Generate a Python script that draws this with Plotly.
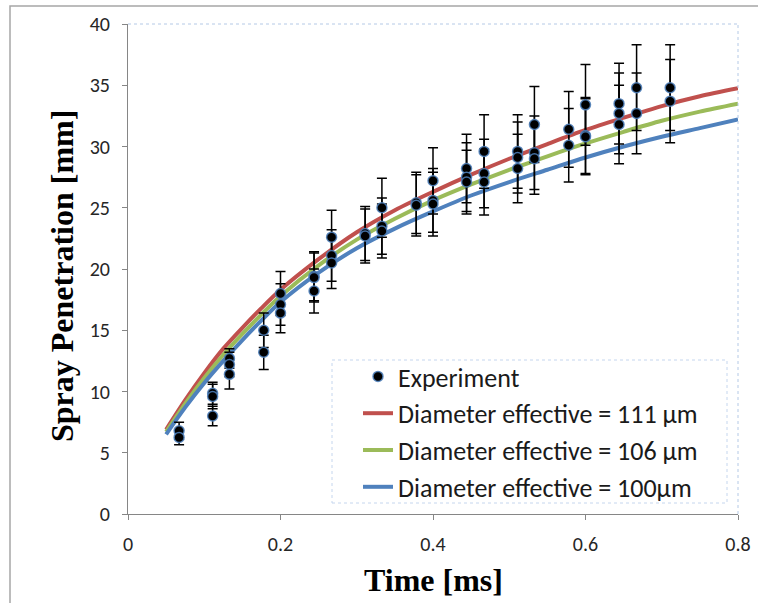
import plotly.graph_objects as go

# ---------------- data ----------------
exp_time = [0.067, 0.067,
            0.111, 0.111, 0.111,
            0.133, 0.133, 0.133,
            0.178, 0.178,
            0.2, 0.2, 0.2,
            0.244, 0.244, 0.244,
            0.267, 0.267, 0.267,
            0.311, 0.311,
            0.333, 0.333, 0.333,
            0.378, 0.378,
            0.4, 0.4, 0.4,
            0.444, 0.444, 0.444,
            0.467, 0.467, 0.467,
            0.511, 0.511, 0.511,
            0.533, 0.533, 0.533,
            0.578, 0.578,
            0.6, 0.6, 0.6,
            0.644, 0.644, 0.644,
            0.667, 0.667,
            0.711, 0.711]
exp_pen = [6.8, 6.25,
           9.85, 9.6, 8.0,
           12.7, 12.2, 11.4,
           15.0, 13.2,
           18.0, 17.1, 16.4,
           19.4, 19.3, 18.2,
           22.6, 21.1, 20.5,
           22.9, 22.7,
           25.0, 23.5, 23.1,
           25.4, 25.2,
           27.2, 25.6, 25.3,
           28.2, 27.5, 27.1,
           29.6, 27.8, 27.1,
           29.6, 29.1, 28.2,
           31.8, 29.5, 29.0,
           31.4, 30.1,
           33.4, 30.9, 30.8,
           33.5, 32.7, 31.8,
           34.8, 32.7,
           34.8, 33.7]
exp_err = [0.7, 0.6,
           0.9, 1.0, 0.8,
           0.8, 1.0, 1.2,
           1.4, 1.4,
           1.8, 1.7, 1.6,
           2.0, 2.0, 1.8,
           2.2, 2.1, 2.1,
           2.2, 2.2,
           2.4, 2.3, 2.2,
           2.5, 2.5,
           2.7, 2.6, 2.6,
           2.8, 2.8, 2.6,
           3.0, 2.8, 2.7,
           3.0, 2.9, 2.8,
           3.1, 3.0, 2.9,
           3.1, 3.0,
           3.3, 3.1, 3.1,
           3.3, 3.3, 3.2,
           3.5, 3.3,
           3.5, 3.4]

model_time = [0.05, 0.075, 0.1, 0.125, 0.15, 0.175, 0.2, 0.25, 0.3, 0.35,
              0.4, 0.45, 0.5, 0.55, 0.6, 0.65, 0.7, 0.75, 0.8]
pen_111 = [6.9, 9.3, 11.5, 13.5, 15.2, 16.8, 18.3, 20.8, 23.0, 24.8,
           26.3, 27.7, 29.0, 30.2, 31.35, 32.35, 33.3, 34.1, 34.75]
pen_106 = [6.7, 9.0, 11.1, 13.0, 14.7, 16.3, 17.8, 20.3, 22.4, 24.1,
           25.6, 26.9, 28.1, 29.2, 30.25, 31.2, 32.1, 32.85, 33.5]
pen_100 = [6.5, 8.7, 10.7, 12.5, 14.2, 15.8, 17.3, 19.7, 21.7, 23.3,
           24.7, 26.0, 27.1, 28.1, 29.1, 30.0, 30.8, 31.5, 32.2]

x_ticks = [0, 0.2, 0.4, 0.6, 0.8]
x_ticktext = ["0", "0.2", "0.4", "0.6", "0.8"]
y_ticks = [0, 5, 10, 15, 20, 25, 30, 35, 40]

names = ["Experiment",
         "Diameter effective = 111 µm",
         "Diameter effective = 106 µm",
         "Diameter effective = 100µm"]

# ---------------- figure ----------------
TICKFONT = dict(family="Carlito, Lato, sans-serif", size=20, color="#262626")

fig = go.Figure()
for y, col, nm, rank in [(pen_111, "#C0504D", names[1], 2),
                         (pen_106, "#9BBB59", names[2], 3),
                         (pen_100, "#4F81BD", names[3], 4)]:
    fig.add_trace(go.Scatter(
        x=model_time, y=y, mode="lines", name=nm,
        line=dict(color=col, width=4, shape="spline", smoothing=0.8),
        legendrank=rank, legendgroup=nm))

fig.add_trace(go.Scatter(
    x=exp_time, y=exp_pen, mode="markers", name=names[0],
    marker=dict(color="black", size=10,
                line=dict(color="rgba(79,129,189,0.85)", width=1.5)),
    error_y=dict(type="data", array=exp_err, visible=True,
                 color="black", thickness=1.5, width=5),
    legendrank=1, legendgroup=names[0]))

# plot area position (pixels): x 128..738, y 24..514
L, R, T, B = 128, 20, 24, 89
W, H = 758, 603
pw, ph = W - L - R, H - T - B


def px(xp):
    return (xp - L) / pw


def py(yp):
    return (H - B - yp) / ph


fig.update_layout(
    width=W, height=H,
    margin=dict(l=L, r=R, t=T, b=B, autoexpand=False),
    paper_bgcolor="white", plot_bgcolor="white",
    showlegend=True,
    legend=dict(
        x=px(358), y=py(353), xanchor="left", yanchor="top",
        bgcolor="rgba(255,255,255,0)", borderwidth=0,
        font=dict(family="Carlito, Lato, sans-serif", size=26, color="#1a1a1a"),
        traceorder="grouped", tracegroupgap=0,
    ),
    xaxis=dict(range=[0, 0.8], tickvals=x_ticks, ticktext=x_ticktext,
               showgrid=False, zeroline=False, showline=True,
               linecolor="#868686", linewidth=1, ticks="outside",
               ticklen=5, tickcolor="#868686", tickfont=TICKFONT,
               ticklabelstandoff=7),
    yaxis=dict(range=[0, 40], tickvals=y_ticks,
               showgrid=False, zeroline=False, showline=True,
               linecolor="#868686", linewidth=1, ticks="outside",
               ticklen=5, tickcolor="#868686", tickfont=TICKFONT,
               ticklabelstandoff=8),
    shapes=[
        # outer chart border (cropped at right/bottom)
        dict(type="rect", xref="paper", yref="paper",
             x0=px(10), x1=px(800), y0=py(650), y1=py(6),
             line=dict(color="#a6a6a6", width=1.5), layer="below"),
        # plot-area dotted frame (top & right)
        dict(type="line", xref="paper", yref="paper", x0=0, x1=1, y0=1, y1=1,
             line=dict(color="#b4c9e6", width=1, dash="dot")),
        dict(type="line", xref="paper", yref="paper", x0=1, x1=1, y0=0, y1=1,
             line=dict(color="#b4c9e6", width=1, dash="dot")),
        # legend box
        dict(type="rect", xref="paper", yref="paper",
             x0=px(332), x1=px(727), y0=py(503), y1=py(360),
             line=dict(color="#c5d6ee", width=1, dash="dot"),
             fillcolor="white", layer="below"),
    ],
    annotations=[
        dict(text="Time [ms]", xref="paper", yref="paper",
             x=px(433), y=py(580), xanchor="center", yanchor="middle",
             showarrow=False,
             font=dict(family="Liberation Serif, Times New Roman, serif",
                       size=32, color="black", weight="bold")),
        dict(text="Spray Penetration [mm]", xref="paper", yref="paper",
             x=px(62), y=py(276), xanchor="center", yanchor="middle",
             textangle=-90, showarrow=False,
             font=dict(family="Liberation Serif, Times New Roman, serif",
                       size=32, color="black", weight="bold")),
    ],
)

fig.write_html("out.html",
               config={"displayModeBar": False},
               post_script="document.body.style.margin='0';"
                           "document.body.style.overflow='hidden';")
